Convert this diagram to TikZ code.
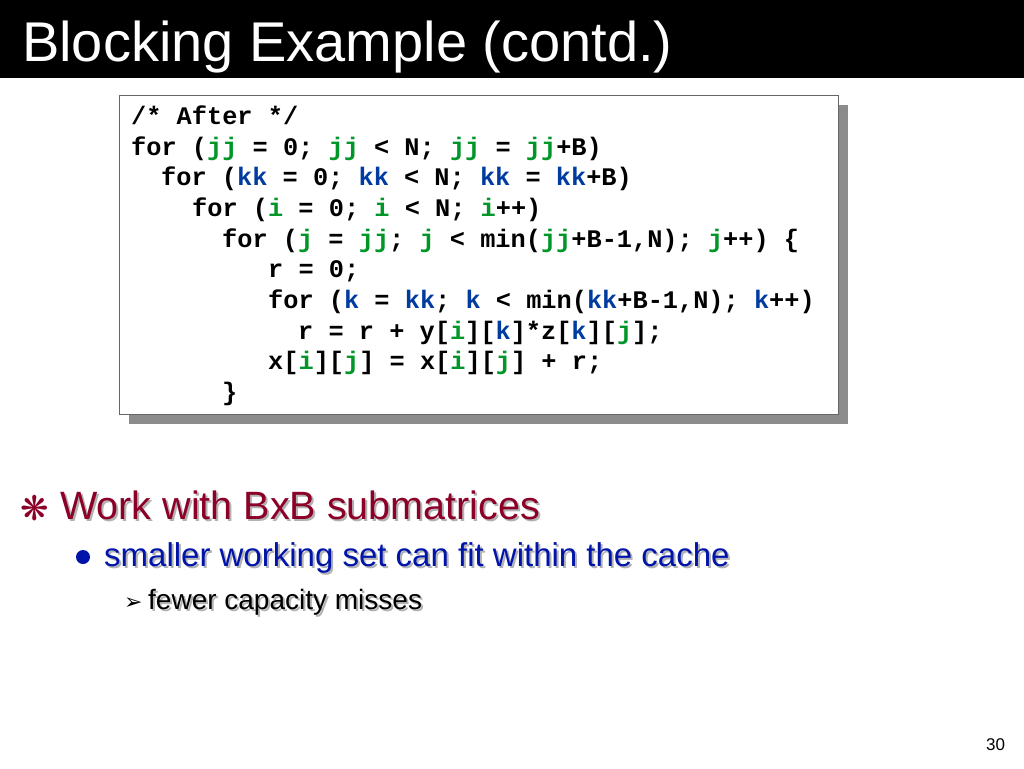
\documentclass[tikz,border=0pt]{standalone}
\usepackage{fontspec}
\setmainfont{Liberation Sans}
\newfontfamily\cmono{Liberation Mono}
\newfontfamily\dv{DejaVu Sans}
\definecolor{cg}{RGB}{0,150,40}
\definecolor{cb}{RGB}{0,60,160}
\definecolor{wred}{RGB}{140,0,40}
\definecolor{sblue}{RGB}{0,20,170}
\newcommand{\G}[1]{\textcolor{cg}{#1}}
\newcommand{\Bl}[1]{\textcolor{cb}{#1}}
\tikzset{codeline/.style={anchor=base west,inner sep=0pt,font=\cmono\bfseries\fontsize{25.3}{25}\selectfont},
 shadowtxt/.style={anchor=base west,inner sep=0pt,text=black!30}}
\begin{document}
\begin{tikzpicture}[x=1pt,y=-1pt]
\useasboundingbox (0,0) rectangle (1024,768);
\fill[black] (0,0) rectangle (1024,78);
\node[anchor=base west,inner sep=0pt,text=white,font=\fontsize{56}{56}\selectfont] (title) at (22,62) {Blocking Example (contd.)};
\fill[black!45] (129,105) rectangle (848,424);
\draw[black!60,fill=white] (119,95) rectangle (838,414);
\node[codeline] (l1) at (131,124) {/* After */};
\node[codeline] (l2) at (131,155) {for (\G{jj} = 0; \G{jj} < N; \G{jj} = \G{jj}+B)};
\node[codeline] (l3) at (161,185) {for (\Bl{kk} = 0; \Bl{kk} < N; \Bl{kk} = \Bl{kk}+B)};
\node[codeline] (l4) at (192,216) {for (\G{i} = 0; \G{i} < N; \G{i}++)};
\node[codeline] (l5) at (222,247) {for (\G{j} = \G{jj}; \G{j} < min(\G{jj}+B-1,N); \G{j}++) \{};
\node[codeline] (l6) at (268,277) {r = 0;};
\node[codeline] (l7) at (268,308) {for (\Bl{k} = \Bl{kk}; \Bl{k} < min(\Bl{kk}+B-1,N); \Bl{k}++)};
\node[codeline] (l8) at (298,339) {r = r + y[\G{i}][\Bl{k}]*z[\Bl{k}][\G{j}];};
\node[codeline] (l9) at (268,369) {x[\G{i}][\G{j}] = x[\G{i}][\G{j}] + r;};
\node[codeline] (l10) at (222,400) {\}};
\node[anchor=base west,inner sep=0pt,text=wred,font=\dv\bfseries\fontsize{34}{34}\selectfont] (b1) at (20,520) {❋};
\node[shadowtxt,font=\fontsize{39.5}{40}\selectfont] at (62,521) {Work with BxB submatrices};
\node[anchor=base west,inner sep=0pt,text=wred,font=\fontsize{39.5}{40}\selectfont] (t1) at (60,519) {Work with BxB submatrices};
\fill[sblue] (83,557) circle (7);
\node[shadowtxt,font=\fontsize{33}{33}\selectfont] at (106,568) {smaller working set can fit within the cache};
\node[anchor=base west,inner sep=0pt,text=sblue,font=\fontsize{33}{33}\selectfont] (t2) at (104,566) {smaller working set can fit within the cache};
\node[anchor=base west,inner sep=0pt,font=\dv\fontsize{22}{22}\selectfont] (b3) at (124,609) {➢};
\node[shadowtxt,font=\fontsize{28}{28}\selectfont] at (150,611) {fewer capacity misses};
\node[anchor=base west,inner sep=0pt,font=\fontsize{28}{28}\selectfont] (t3) at (148,609) {fewer capacity misses};
\node[anchor=base west,inner sep=0pt,font=\fontsize{17}{17}\selectfont] (pg) at (986,750) {30};
\end{tikzpicture}
\end{document}
